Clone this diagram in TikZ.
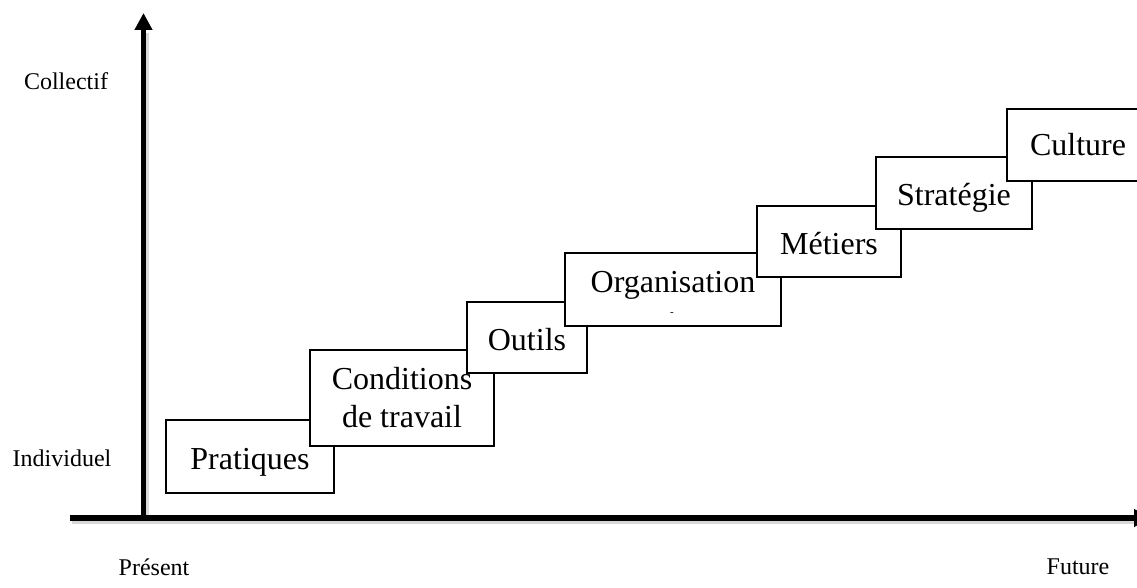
\documentclass[tikz,border=0pt]{standalone}
\usepackage{fontspec}
\setmainfont{Liberation Serif}
\usetikzlibrary{arrows.meta}

\tikzset{
  stepbox/.style={draw=black, line width=1.3pt, fill=white, inner sep=0pt,
    align=center, font=\fontsize{32}{38}\selectfont},
  oneline/.style={text height=25pt, text depth=0pt},
  axislabel/.style={inner sep=0pt, font=\fontsize{24}{28}\selectfont},
  axisline/.style={line width=5.4pt, -{Triangle[length=17pt,width=17pt]}},
  axisshadow/.style={line width=5pt, draw=black!15, line cap=butt}
}

\begin{document}
\begin{tikzpicture}[x=1pt,y=-1pt]
  \useasboundingbox (0,0) rectangle (1137,588);
  \clip (0,0) rectangle (1137,588);

  % axis anchor points
  \coordinate (origin) at (143.5,518);
  \coordinate (ytop) at (143.5,13);
  \coordinate (xleft) at (70,518);
  \coordinate (xright) at (1151,518);

  % soft shadow under the axes
  \draw[axisshadow] ([shift={(3,3)}]origin) -- ([shift={(3,3)}]143.5,30);
  \draw[axisshadow] ([shift={(2,3)}]xleft) -- ([shift={(2,3)}]1134,518);

  % axes
  \draw[axisline] (origin) -- (ytop);
  \draw[axisline] (xleft) -- (xright);

  % axis labels
  \node[axislabel] (collectif) at (66,81) {Collectif};
  \node[axislabel] (individuel) at (62,458) {Individuel};
  \node[axislabel] (present) at (154,567) {Présent};
  \node[axislabel] (future) at (1078,567) {Future};

  % the staircase of levels, each step drawn over the previous one
  \node[stepbox, oneline, minimum width=168pt, minimum height=73pt] (pratiques) at (250,456.5) {Pratiques};
  \node[stepbox, minimum width=184pt, minimum height=96pt] (conditions) at (402,398) {Conditions\\de travail};
  \node[stepbox, oneline, minimum width=120pt, minimum height=71pt] (outils) at (527,337.5) {Outils};
  \node[stepbox, text height=26pt, text depth=20pt, minimum width=216pt, minimum height=73pt] (organisation) at (673,289.5) {Organisation};
  \node[inner sep=0pt, font=\fontsize{11}{11}\selectfont] (orgdash) at (672,314) {-};
  \node[stepbox, oneline, minimum width=144pt, minimum height=71pt] (metiers) at (829,241.5) {Métiers};
  \node[stepbox, oneline, minimum width=156pt, minimum height=72pt] (strategie) at (954,193) {Stratégie};
  \node[stepbox, text height=22pt, text depth=0pt, minimum width=142pt, minimum height=72pt] (culture) at (1078,145) {Culture};
\end{tikzpicture}
\end{document}
